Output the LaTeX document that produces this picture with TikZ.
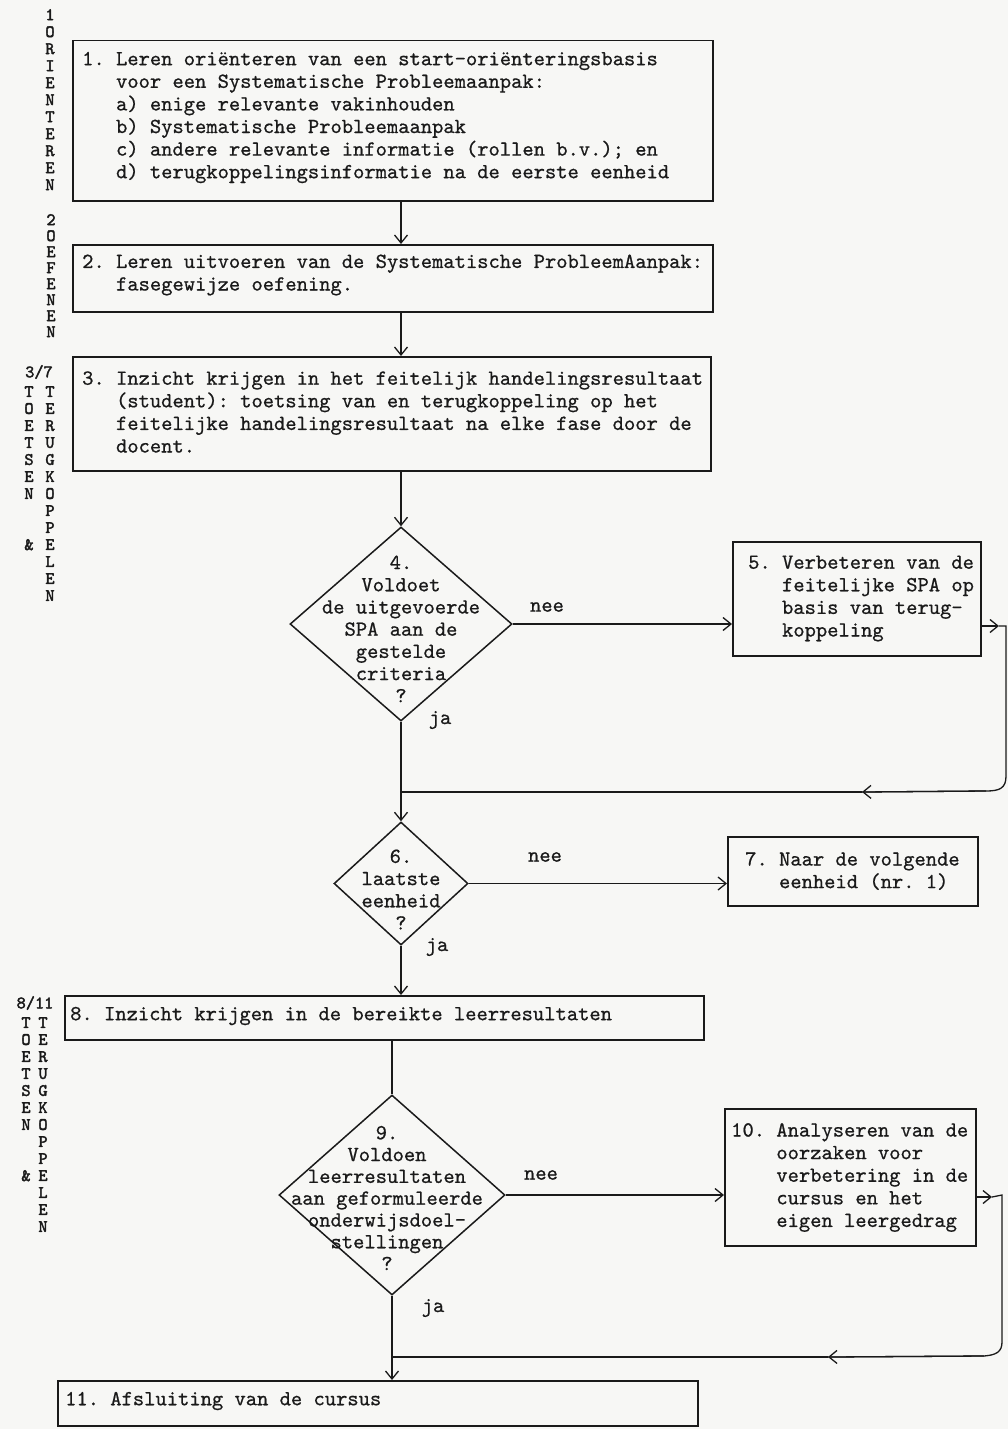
\documentclass[tikz,border=0pt]{standalone}
\usepackage{fontspec}
\newfontfamily\boxfont{lmmono10-regular.otf}[BoldFont=lmmono10-regular.otf, BoldFeatures={FakeBold=0.7}]
\newfontfamily\labfont{lmmono10-regular.otf}[BoldFont=lmmono10-regular.otf, BoldFeatures={FakeBold=2.2}]
\usetikzlibrary{shapes.geometric,arrows.meta}
\definecolor{ink}{HTML}{1A1A1A}
\definecolor{paper}{HTML}{F7F7F5}
\begin{document}
\begin{tikzpicture}[x=1pt,y=-1pt,
  every node/.style={inner sep=0pt},
  frame/.style={draw=ink, line width=1.5pt, rectangle, anchor=north west, inner sep=0pt},
  txt/.style={font=\boxfont\bfseries\fontsize{21.5}{22.6}\selectfont\frenchspacing, align=left, anchor=west, text=ink},
  ctxt/.style={font=\boxfont\bfseries\fontsize{21.5}{22.2}\selectfont\frenchspacing, align=center, anchor=center, text=ink},
  dia/.style={draw=ink, line width=1.5pt, diamond, inner sep=0pt},
  lab/.style={font=\labfont\bfseries\fontsize{17.5}{17}\selectfont, align=center, anchor=north, text=ink},
  flow/.style={draw=ink, line width=1.3pt, -{Straight Barb[length=8pt,width=13pt,line width=1.3pt]}},
  conn/.style={draw=ink, line width=1.3pt},
  ]
\useasboundingbox (0,0) rectangle (1008,1429);
\fill[paper] (0,0) rectangle (1008,1429);

% left labels
\node[lab] (l1) at (50,9) {1\\O\\R\\I\\E\\N\\T\\E\\R\\E\\N};
\node[lab, font=\labfont\bfseries\fontsize{17.5}{16}\selectfont] (l2) at (51,214) {2\\O\\E\\F\\E\\N\\E\\N};
\node[lab] (l3a) at (39,365) {3/7};
\node[lab] (l3b) at (29,386) {T\\O\\E\\T\\S\\E\\N};
\node[lab] (l3c) at (29,539) {\&};
\node[lab] (l3d) at (50,386) {T\\E\\R\\U\\G\\K\\O\\P\\P\\E\\L\\E\\N};
\node[lab] (l4a) at (35,996) {8/11};
\node[lab] (l4b) at (26,1017) {T\\O\\E\\T\\S\\E\\N};
\node[lab] (l4c) at (26,1170) {\&};
\node[lab] (l4d) at (43,1017) {T\\E\\R\\U\\G\\K\\O\\P\\P\\E\\L\\E\\N};

% boxes
\node[frame, minimum width=640pt, minimum height=160pt] (b1) at (72,40) {};
\node[txt] (t1) at (82,117.5) {1. Leren oriënteren van een start-oriënteringsbasis\\
\hphantom{1.\ }voor een Systematische Probleemaanpak:\\
\hphantom{1.\ }a) enige relevante vakinhouden\\
\hphantom{1.\ }b) Systematische Probleemaanpak\\
\hphantom{1.\ }c) andere relevante informatie (rollen b.v.); en\\
\hphantom{1.\ }d) terugkoppelingsinformatie na de eerste eenheid};

\node[frame, minimum width=640pt, minimum height=67pt] (b2) at (72,244) {};
\node[txt] (t2) at (82,275) {2. Leren uitvoeren van de Systematische ProbleemAanpak:\\
\hphantom{2.\ }fasegewijze oefening.};

\node[frame, minimum width=638pt, minimum height=114pt] (b3) at (72,356) {};
\node[txt] (t3) at (82,412) {3. Inzicht krijgen in het feitelijk handelingsresultaat\\
\hphantom{3.\ }(student): toetsing van en terugkoppeling op het\\
\hphantom{3.\ }feitelijke handelingsresultaat na elke fase door de\\
\hphantom{3.\ }docent.};

\node[dia, minimum width=222pt, minimum height=194pt] (d4) at (401,624) {};
\node[ctxt] (t4) at (401,629) {4.\\Voldoet\\de uitgevoerde\\SPA aan de\\gestelde\\criteria\\?};

\node[frame, minimum width=248pt, minimum height=114pt] (b5) at (732,541) {};
\node[txt] (t5) at (748,598.5) {5. Verbeteren van de\\
\hphantom{5.\ }feitelijke SPA op\\
\hphantom{5.\ }basis van terug-\\
\hphantom{5.\ }koppeling};

\node[dia, minimum width=134pt, minimum height=123pt] (d6) at (401,883.5) {};
\node[ctxt] (t6) at (401,889.5) {6.\\laatste\\eenheid\\?};

\node[frame, minimum width=250pt, minimum height=69pt] (b7) at (727,836) {};
\node[txt] (t7) at (745,871) {7. Naar de volgende\\
\hphantom{7.\ }eenheid (nr. 1)};

\node[frame, minimum width=639pt, minimum height=44pt] (b8) at (64,995) {};
\node[txt] (t8) at (70,1016) {8. Inzicht krijgen in de bereikte leerresultaten};

\node[dia, minimum width=226pt, minimum height=200pt] (d9) at (392,1195) {};
\node[ctxt, font=\boxfont\bfseries\fontsize{21.5}{21.8}\selectfont] (t9) at (387,1198) {9.\\Voldoen\\leerresultaten\\aan geformuleerde\\onderwijsdoel-\\stellingen\\?};

\node[frame, minimum width=251pt, minimum height=137pt] (b10) at (724,1108) {};
\node[txt] (t10) at (731,1177.5) {10. Analyseren van de\\
\hphantom{10.\ }oorzaken voor\\
\hphantom{10.\ }verbetering in de\\
\hphantom{10.\ }cursus en het\\
\hphantom{10.\ }eigen leergedrag};

\node[frame, minimum width=640pt, minimum height=45pt] (b11) at (57,1380) {};
\node[txt] (t11) at (65,1401) {11. Afsluiting van de cursus};

% yes / no labels
\node[ctxt] (n1) at (547,607) {nee};
\node[ctxt] (n2) at (545,857) {nee};
\node[ctxt] (n3) at (541,1175) {nee};
\node[ctxt] (y1) at (440,720) {ja};
\node[ctxt] (y2) at (437,947) {ja};
\node[ctxt] (y3) at (433,1308) {ja};

% main flow
\draw[flow] (b1.south -| d4.north) -- (b2.north -| d4.north);
\draw[flow] (b2.south -| d4.north) -- (b3.north -| d4.north);
\draw[flow] (b3.south -| d4.north) -- (d4.north);
\draw[flow] (d4.east) -- (b5.west |- d4.east);
\draw[flow] (d4.south) -- (d6.north);
\draw[flow] (d6.east) -- (b7.west |- d6.east);
\draw[flow] (d6.south) -- (b8.north -| d6.south);
\draw[conn] (b8.south -| d9.north) -- (d9.north);
\draw[flow] (d9.east) -- (b10.west |- d9.east);
\draw[flow] (d9.south) -- (b11.north -| d9.south);

% feedback loop 1
\coordinate (e5) at (980,626);
\coordinate (k1) at (999,626);
\coordinate (m1) at (862,792);
\coordinate (j1) at (401,792);
\draw[flow] (e5) -- (k1);
\draw[conn] (k1) -- (1006,626) -- (1006,776) .. controls (1006,788) and (1000,791) .. (986,791) -- (m1);
\draw[flow] (986,791) -- (m1);
\draw[conn] (m1) -- (j1);

% feedback loop 2
\coordinate (e10) at (975,1197);
\coordinate (k2) at (992,1197);
\coordinate (m2) at (828,1357);
\coordinate (j2) at (392,1357);
\draw[flow] (e10) -- (k2);
\draw[conn] (k2) -- (1002,1195) -- (1002,1342) .. controls (1002,1352) and (996,1355) .. (984,1356) -- (m2);
\draw[flow] (984,1356) -- (m2);
\draw[conn] (m2) -- (j2);
\end{tikzpicture}
\end{document}
